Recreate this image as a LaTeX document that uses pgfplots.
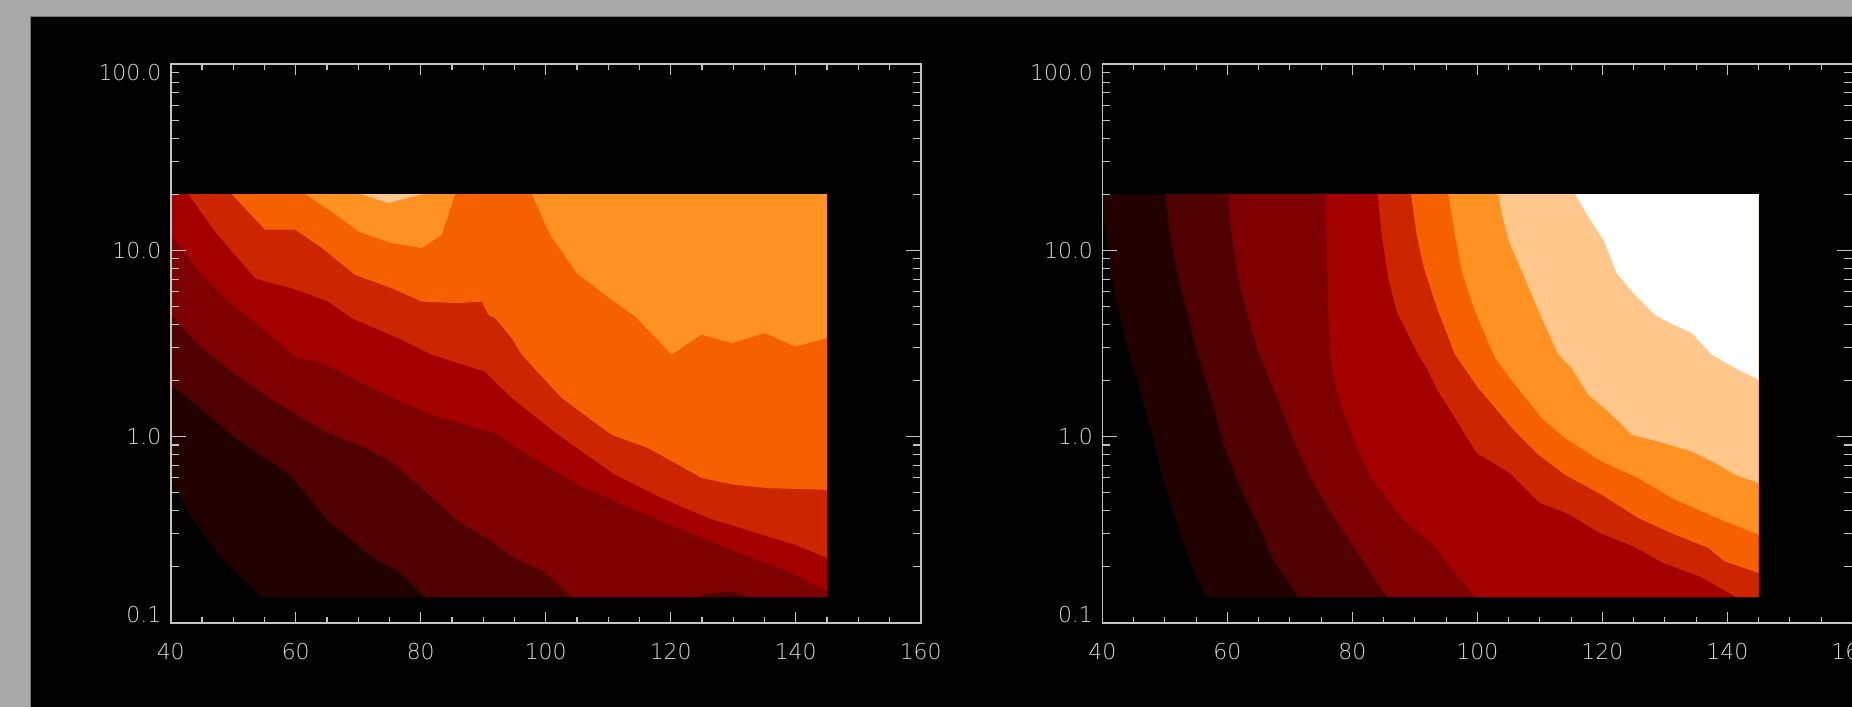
\documentclass[border=0pt]{standalone}
\usepackage{pgfplots}
\pgfplotsset{compat=1.18}
\usepackage{fontspec}
\setmainfont{DejaVu Sans}
\newfontfamily\thinfont{DejaVu Sans ExtraLight}
\definecolor{bggray}{RGB}{169,169,169}
\definecolor{edgegray}{RGB}{120,120,120}
\definecolor{axgray}{RGB}{195,195,195}
\definecolor{lblgray}{RGB}{215,215,215}
\definecolor{Lone}{RGB}{35,0,0}
\definecolor{Ltwo}{RGB}{80,0,0}
\definecolor{Lthree}{RGB}{126,0,0}
\definecolor{Lfour}{RGB}{164,0,0}
\definecolor{Lfive}{RGB}{204,38,0}
\definecolor{Lsix}{RGB}{245,96,0}
\definecolor{Lseven}{RGB}{255,146,34}
\definecolor{Leight}{RGB}{255,199,140}
\definecolor{Lnine}{RGB}{255,255,255}
\begin{document}
\begin{tikzpicture}
\fill[bggray] (0,0) rectangle (926bp,353.5bp);
\fill[black] (15bp,0) rectangle (926bp,345bp);
\draw[edgegray, line width=0.5bp] (15bp,0) -- (15bp,345bp) -- (926bp,345bp);

% ---------- left panel: data and x ticks ----------
\begin{axis}[scale only axis, width=375bp, height=279.35bp, anchor=south west,
    at={(85.35bp,42.15bp)},
    xmin=40, xmax=160, ymode=log, ymin=0.1, ymax=100,
    axis line style={draw=axgray, line width=0.8bp},
    tick style={draw=axgray, line width=0.55bp},
    tick align=inside, axis on top,
    ticklabel style={font=\thinfont\fontsize{11}{13}\selectfont, text=lblgray},
    xtick={40,60,80,100,120,140,160},
    xticklabels={40,60,80,100,120,140,160},
    minor xtick={45,50,55,65,70,75,85,90,95,105,110,115,125,130,135,145,150,155},
    major tick length=5.5bp, minor tick length=3bp,
    ytick=\empty,
    xticklabel style={inner sep=0pt, anchor=north, yshift=-10bp}]
\addplot[draw=none, fill=Lone] coordinates {(40,0.578)(43.36,0.365)(47.62,0.232)(54.56,0.137)(145,0.137)(145,20)(40,20)};
\addplot[draw=none, fill=Ltwo] coordinates {(40,1.895)(42.77,1.614)(50.29,0.984)(59.09,0.623)(65.01,0.357)(71.89,0.229)(76.37,0.188)(80.85,0.137)(145,0.137)(145,20)(40,20)};
\addplot[draw=none, fill=Lthree] coordinates {(40,4.50)(44.42,3.11)(49.76,2.23)(56.69,1.54)(64.69,1.064)(71.09,0.866)(75.36,0.734)(80.69,0.507)(86.02,0.350)(91.36,0.273)(94.56,0.227)(99.89,0.185)(104.16,0.137)(145,0.137)(145,20)(40,20)};
\addplot[draw=none, fill=Ltwo] coordinates {(124.5,0.137)(125.2,0.143)(128.96,0.1467)(130.0,0.1467)(132.4,0.137)};
\addplot[draw=none, fill=Lfour] coordinates {(40,12.1)(44.96,7.38)(49.22,5.30)(54.56,3.82)(59.89,2.69)(64.69,2.43)(68.96,2.06)(75.36,1.61)(81.76,1.31)(88.69,1.11)(91.89,1.04)(98.82,0.734)(105.22,0.550)(112.16,0.430)(118.56,0.350)(124.96,0.285)(130.29,0.241)(138.82,0.189)(145,0.148)(145,20)(40,20)};
\addplot[draw=none, fill=Lfive] coordinates {(42.82,20)(47.09,12.6)(53.49,7.08)(55.09,6.79)(59.36,6.26)(65.22,5.30)(68.96,4.32)(76.42,3.37)(81.76,2.75)(90.29,2.23)(91.89,1.97)(94.56,1.61)(102.02,1.02)(111.09,0.623)(118.56,0.467)(126.02,0.365)(134.56,0.297)(139.89,0.262)(145,0.223)(145,20)};
\addplot[draw=none, fill=Lsix] coordinates {(49.76,20)(55.09,12.9)(59.89,12.9)(64.16,10.3)(69.49,7.38)(75.36,6.26)(80.16,5.30)(86.02,5.20)(89.76,5.30)(90.82,4.50)(91.89,4.32)(94.56,3.37)(96.16,2.75)(102.56,1.61)(110.56,1.02)(116.42,0.866)(124.96,0.598)(130.29,0.550)(135.62,0.528)(145,0.517)(145,20)};
\addplot[draw=none, fill=Lseven] coordinates {(61.54,20)(65.76,16.1)(70.02,12.6)(75.36,10.9)(80.16,10.3)(83.36,12.1)(84.42,15.5)(85.49,20)};
\addplot[draw=none, fill=Lseven] coordinates {(97.76,20)(100.7,12.1)(104.96,7.54)(109.49,5.76)(114.29,4.41)(120.16,2.75)(124.96,3.52)(129.76,3.17)(135.09,3.59)(139.89,3.04)(145,3.37)(145,20)};
\addplot[draw=none, fill=Leight] coordinates {(70.56,20)(74.82,17.9)(80.16,20)};
\end{axis}

% ---------- left panel: y ticks ----------
\begin{axis}[scale only axis, width=375bp, height=279.35bp, anchor=south west,
    at={(85.35bp,42.15bp)},
    xmin=40, xmax=160, ymode=log, ymin=0.1, ymax=100,
    axis line style={draw=axgray, line width=0.8bp},
    tick style={draw=axgray, line width=0.55bp},
    tick align=inside, axis on top,
    ticklabel style={font=\thinfont\fontsize{11}{13}\selectfont, text=lblgray},
    xtick=\empty,
    ytick={0.1,1,10,100},
    yticklabels={\raisebox{4bp}[\height][\depth]{0.1},1.0,10.0,\raisebox{-4.5bp}[\height][\depth]{100.0}},
    minor ytick={0.2,0.3,0.4,0.5,0.6,0.7,0.8,0.9,2,3,4,5,6,7,8,9,20,30,40,50,60,70,80,90},
    major tick length=7.5bp, minor tick length=4bp,
    yticklabel style={inner sep=0pt, anchor=east, xshift=-4.5bp}]
\addplot[draw=none] coordinates {(50,1)};
\end{axis}

% ---------- right panel: data and x ticks ----------
\begin{axis}[scale only axis, width=375bp, height=279.35bp, anchor=south west,
    at={(551.15bp,42.15bp)},
    xmin=40, xmax=160, ymode=log, ymin=0.1, ymax=100,
    axis line style={draw=axgray, line width=0.8bp},
    tick style={draw=axgray, line width=0.55bp},
    tick align=inside, axis on top,
    ticklabel style={font=\thinfont\fontsize{11}{13}\selectfont, text=lblgray},
    xtick={40,60,80,100,120,140,160},
    xticklabels={40,60,80,100,120,140,160},
    minor xtick={45,50,55,65,70,75,85,90,95,105,110,115,125,130,135,145,150,155},
    major tick length=5.5bp, minor tick length=3bp,
    ytick=\empty,
    xticklabel style={inner sep=0pt, anchor=north, yshift=-10bp}]
\addplot[draw=none, fill=Lone] coordinates {(40,16.5)(40.96,9.84)(42.03,5.76)(43.63,3.37)(45.76,1.895)(47.90,1.064)(49.50,0.623)(51.63,0.365)(53.76,0.223)(56.43,0.137)(145,0.137)(145,20)(40,20)};
\addplot[draw=none, fill=Ltwo] coordinates {(50.14,20)(50.67,13.1)(51.90,7.69)(53.50,4.69)(54.83,3.11)(56.43,2.06)(58.03,1.36)(59.36,0.902)(61.23,0.623)(63.36,0.430)(65.50,0.309)(67.10,0.223)(71.36,0.137)(145,0.137)(145,20)};
\addplot[draw=none, fill=Lthree] coordinates {(60.16,20)(60.70,12.1)(61.76,7.08)(63.36,4.32)(64.96,2.86)(67.10,1.895)(68.16,1.57)(70.56,0.960)(73.76,0.562)(76.96,0.372)(81.23,0.227)(85.50,0.137)(145,0.137)(145,20)};
\addplot[draw=none, fill=Lfour] coordinates {(75.74,20)(75.90,9.84)(76.16,4.32)(76.43,2.75)(77.23,1.895)(78.6,1.35)(80.96,0.831)(83.10,0.598)(85.76,0.448)(88.43,0.350)(92.43,0.273)(99.63,0.137)(145,0.137)(145,20)};
\addplot[draw=none, fill=Lfive] coordinates {(84.06,20)(84.70,12.1)(85.76,7.08)(87.10,4.69)(88.96,3.52)(90.83,2.64)(91.63,2.43)(93.76,1.74)(95.63,1.39)(99.90,0.815)(105.23,0.636)(110.03,0.439)(114.30,0.388)(119.63,0.303)(124.96,0.257)(129.76,0.209)(135.63,0.177)(141.50,0.137)(145,0.137)(145,20)};
\addplot[draw=none, fill=Lsix] coordinates {(89.39,20)(90.30,12.1)(91.36,8.35)(91.63,7.69)(93.76,4.69)(96.43,2.75)(100.16,1.82)(106.03,1.064)(109.76,0.798)(114.03,0.623)(119.90,0.487)(125.76,0.365)(131.63,0.297)(136.96,0.252)(139.63,0.213)(145,0.185)(145,20)};
\addplot[draw=none, fill=Lseven] coordinates {(95.36,20)(96.43,12.1)(97.50,7.69)(99.63,4.69)(102.83,2.64)(106.03,1.895)(110.30,1.255)(114.03,0.980)(119.90,0.734)(125.76,0.598)(131.10,0.467)(135.36,0.404)(139.63,0.350)(145,0.297)(145,20)};
\addplot[draw=none, fill=Leight] coordinates {(103.36,20)(103.90,15.8)(104.96,11.4)(107.4,7.3)(110.30,4.32)(112.96,2.75)(115.10,2.33)(117.76,1.67)(120.96,1.36)(124.70,1.02)(128.96,0.940)(134.30,0.831)(138.56,0.705)(141.23,0.623)(145,0.562)(145,20)};
\addplot[draw=none, fill=Lnine] coordinates {(115.63,20)(118.03,14.6)(120.16,11.4)(122.30,7.54)(124.96,5.89)(128.43,4.50)(130.83,4.06)(134.30,3.59)(137.50,2.75)(141.23,2.33)(145,2.02)(145,20)};
\end{axis}

% ---------- right panel: y ticks ----------
\begin{axis}[scale only axis, width=375bp, height=279.35bp, anchor=south west,
    at={(551.15bp,42.15bp)},
    xmin=40, xmax=160, ymode=log, ymin=0.1, ymax=100,
    axis line style={draw=axgray, line width=0.8bp},
    tick style={draw=axgray, line width=0.55bp},
    tick align=inside, axis on top,
    ticklabel style={font=\thinfont\fontsize{11}{13}\selectfont, text=lblgray},
    xtick=\empty,
    ytick={0.1,1,10,100},
    yticklabels={\raisebox{4bp}[\height][\depth]{0.1},1.0,10.0,\raisebox{-4.5bp}[\height][\depth]{100.0}},
    minor ytick={0.2,0.3,0.4,0.5,0.6,0.7,0.8,0.9,2,3,4,5,6,7,8,9,20,30,40,50,60,70,80,90},
    major tick length=7.5bp, minor tick length=4bp,
    yticklabel style={inner sep=0pt, anchor=east, xshift=-4.5bp}]
\addplot[draw=none] coordinates {(50,1)};
\end{axis}

\pgfresetboundingbox
\useasboundingbox (0,0) rectangle (926bp,353.5bp);
\end{tikzpicture}
\end{document}
